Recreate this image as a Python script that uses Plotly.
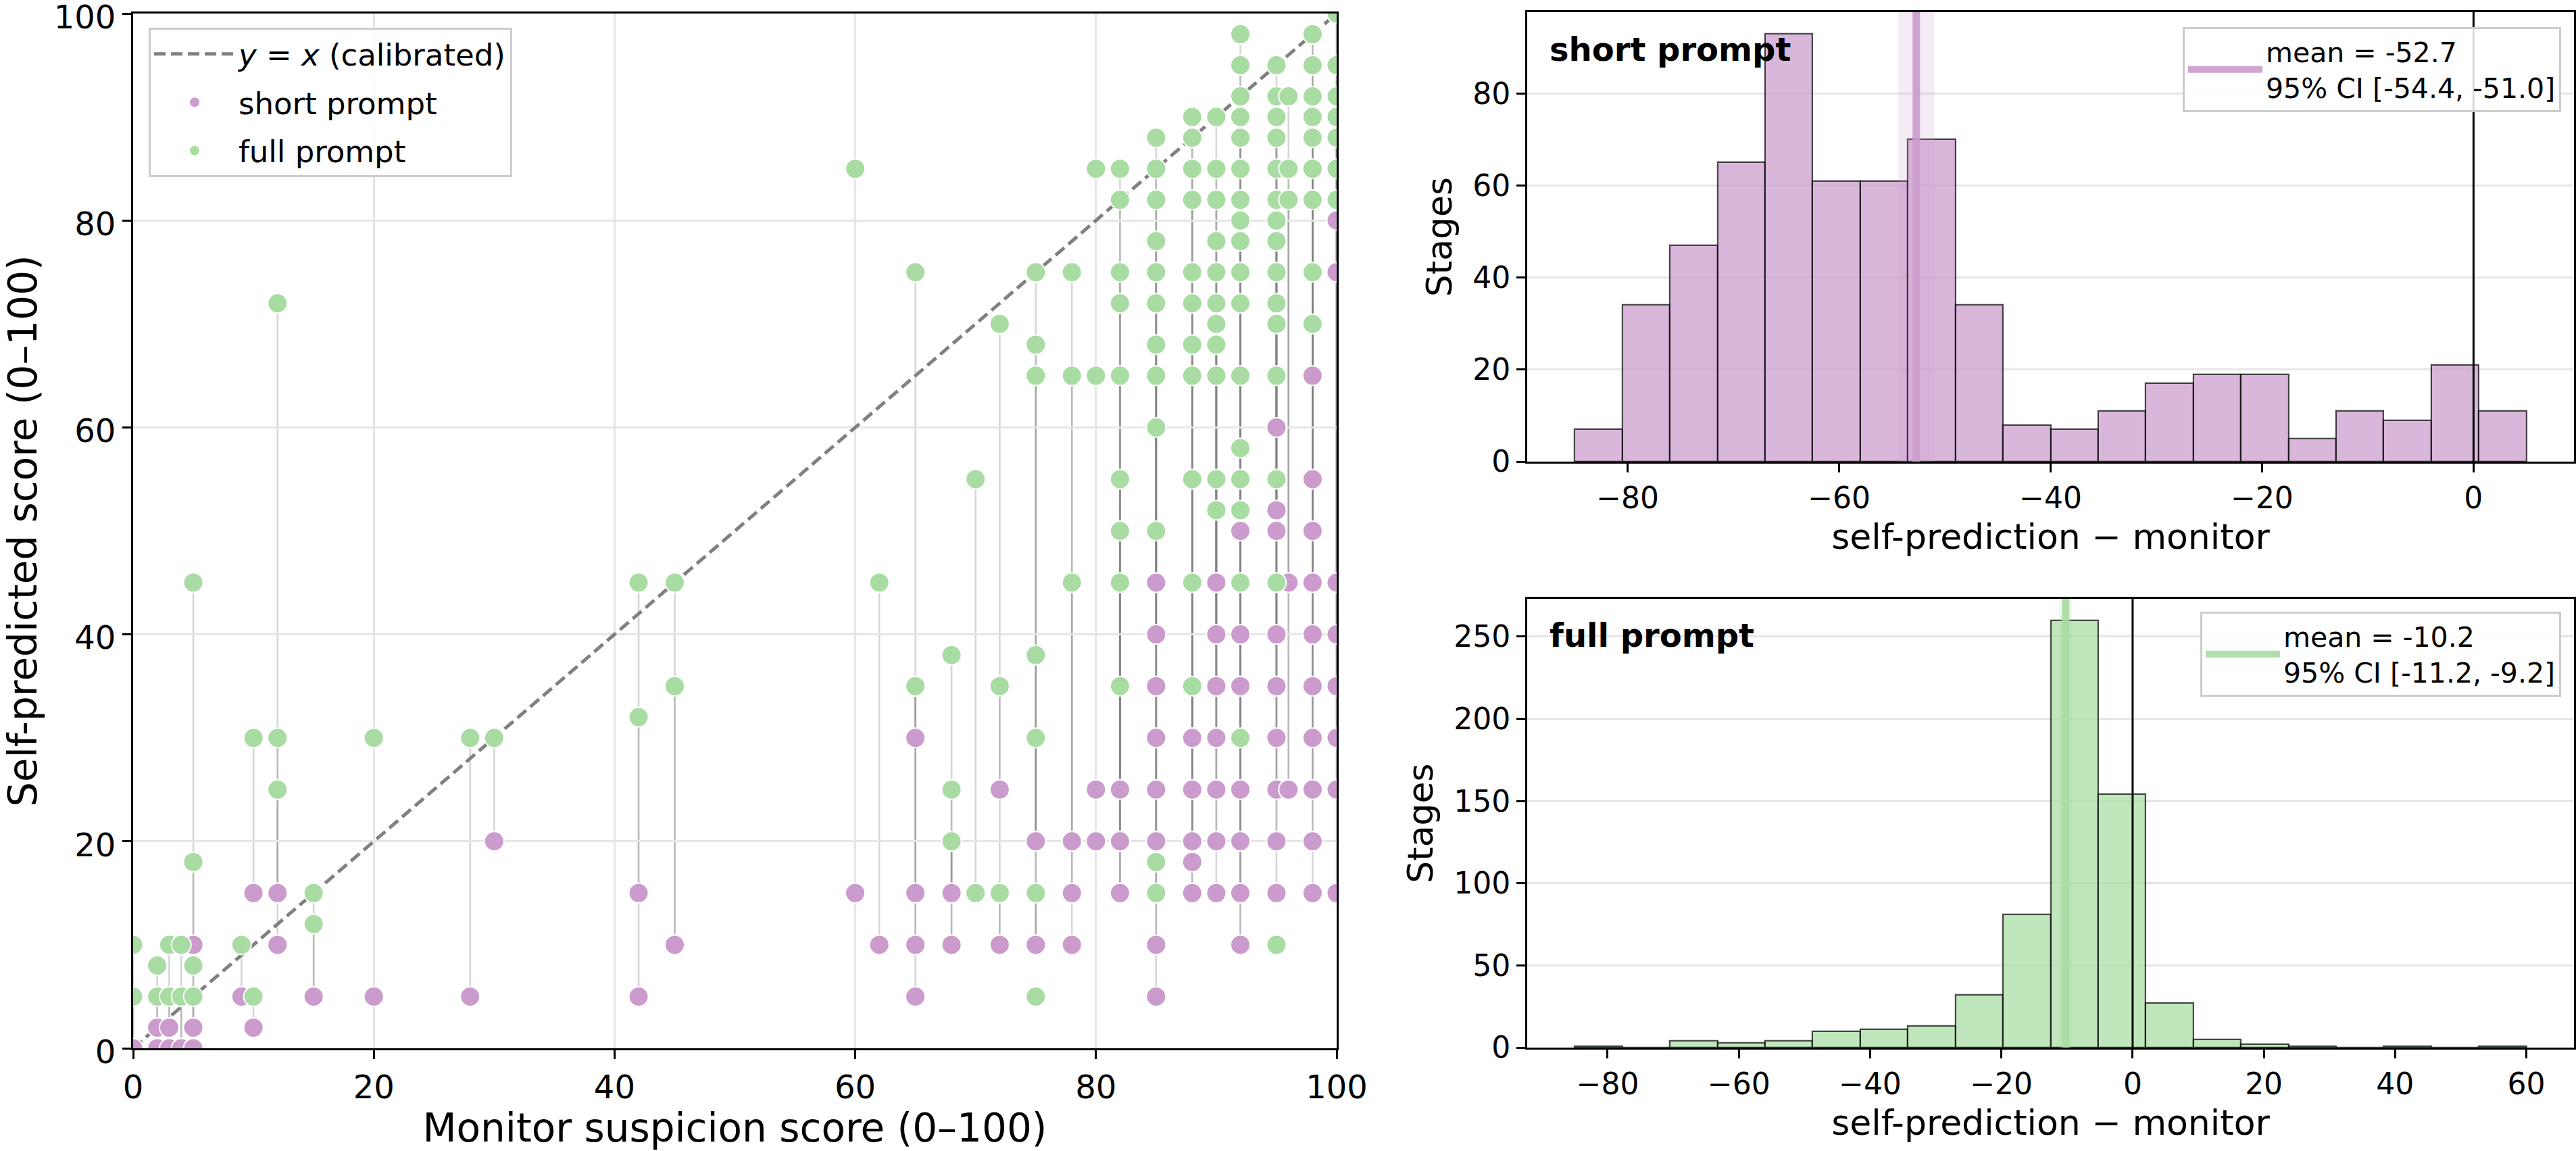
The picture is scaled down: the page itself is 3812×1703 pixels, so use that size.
import plotly.graph_objects as go

W, H = 3812, 1703

# ---------------- scatter data: one entry per stage pair ----------------
# monitor suspicion score (x), short-prompt self-prediction, full-prompt self-prediction
monitor_score = [
    0, 0,
    2, 2,
    3, 3,
    4, 4,
    5, 5, 5, 5,
    9,
    10, 10,
    12, 12, 12,
    15, 15,
    20, 28, 30,
    42, 42,
    45, 45,
    60, 62,
    65, 65, 65, 65,
    68, 68, 68, 68,
    70, 70,
    72, 72, 72,
    75, 75, 75, 75, 75, 75, 75,
    78, 78, 78,
    80, 80,
    82, 82, 82, 82, 82, 82, 82, 82, 82,
    85, 85, 85, 85, 85, 85, 85, 85, 85, 85, 85, 85,
    88, 88, 88, 88, 88, 88, 88, 88, 88, 88, 88,
    90, 90, 90, 90, 90, 90, 90, 90, 90, 90, 90,
    92, 92, 92, 92, 92, 92, 92, 92, 92, 92, 92, 92, 92, 92, 92, 92, 92,
    95, 95, 95, 95, 95, 95, 95, 95, 95, 95, 95, 95, 95, 95, 95,
    96, 96, 96,
    98, 98, 98, 98, 98, 98, 98, 98, 98, 98,
    100, 100, 100, 100, 100, 100, 100, 100,
]
short_pred = [
    0, 0,
    2, 0,
    2, 0,
    0, 0,
    10, 2, 0, 0,
    5,
    15, 2,
    15, 15, 10,
    5, 5,
    5, 5, 20,
    15, 5,
    10, 10,
    15, 10,
    15, 30, 10, 5,
    10, 15, 15, 10,
    15, 15,
    25, 10, 10,
    20, 20, 10, 20, 10, 10, 5,
    20, 15, 10,
    25, 20,
    25, 20, 15, 25, 20, 15, 25, 20, 15,
    45, 40, 35, 30, 25, 20, 10, 5, 45, 40, 35, 30,
    30, 25, 20, 18, 15, 30, 25, 20, 18, 15, 30,
    45, 40, 35, 30, 25, 20, 15, 45, 40, 35, 30,
    50, 40, 35, 25, 20, 15, 10, 50, 40, 35, 25, 20, 15, 10, 50, 40, 35,
    60, 52, 50, 40, 35, 30, 25, 20, 15, 60, 52, 50, 40, 35, 10,
    45, 25, 25,
    65, 55, 50, 45, 40, 35, 30, 25, 20, 15,
    80, 75, 45, 40, 35, 30, 25, 15,
]
full_pred = [
    10, 5,
    8, 5,
    10, 5,
    10, 5,
    45, 18, 8, 5,
    10,
    30, 5,
    72, 30, 25,
    15, 12,
    30, 30, 30,
    45, 32,
    45, 35,
    85, 45,
    75, 35, 35, 35,
    38, 25, 20, 20,
    55, 15,
    70, 35, 15,
    75, 68, 65, 38, 30, 15, 5,
    75, 65, 45,
    85, 65,
    85, 82, 75, 72, 65, 55, 50, 45, 35,
    88, 85, 82, 78, 75, 72, 68, 65, 60, 50, 18, 15,
    90, 88, 85, 82, 75, 72, 68, 65, 55, 45, 35,
    90, 85, 82, 78, 75, 72, 70, 68, 65, 55, 52,
    98, 95, 92, 90, 88, 85, 82, 80, 78, 75, 72, 65, 58, 55, 52, 45, 30,
    95, 92, 90, 88, 85, 82, 80, 78, 75, 72, 70, 65, 55, 45, 10,
    92, 85, 82,
    98, 95, 92, 90, 88, 85, 82, 75, 70, 98,
    100, 95, 92, 90, 88, 85, 82, 100,
]

# ---------------- histogram data (self-prediction - monitor) ----------------
short_bin_edges = [-85, -80.5, -76, -71.5, -67, -62.5, -58, -53.5, -49, -44.5, -40,
                   -35.5, -31, -26.5, -22, -17.5, -13, -8.5, -4, 0.5, 5]
short_counts = [7, 34, 47, 65, 93, 61, 61, 70, 34, 8, 7, 11, 17, 19, 19, 5, 11, 9, 21, 11]
short_mean = -52.7
short_ci = [-54.4, -51.0]

full_bin_edges = [-85, -77.75, -70.5, -63.25, -56, -48.75, -41.5, -34.25, -27, -19.75, -12.5,
                  -5.25, 2, 9.25, 16.5, 23.75, 31, 38.25, 45.5, 52.75, 60]
full_counts = [1, 0, 4, 3, 4, 10, 11, 13, 32, 81, 260, 154, 27, 5, 2, 1, 0, 1, 0, 1]
full_mean = -10.2
full_ci = [-11.2, -9.2]

# ---------------- styling ----------------
PURPLE = "rgb(203,155,205)"
GREEN = "rgb(168,220,162)"
PURPLE_BAR = "rgba(203,155,205,0.72)"
GREEN_BAR = "rgba(168,220,162,0.72)"
FONT = "DejaVu Sans"

def px_x(p):
    return p / W

def px_y(p):
    return 1 - p / H

fig = go.Figure()

# connector lines for each stage (drawn via data coordinates)
for m, s, f in zip(monitor_score, short_pred, full_pred):
    if s == f:
        continue
    fig.add_shape(type="line", xref="x", yref="y", x0=m, x1=m, y0=s, y1=f,
                  line=dict(color="rgba(128,128,128,0.32)", width=2.6), layer="below")

# y = x reference
fig.add_trace(go.Scatter(x=[0, 100], y=[0, 100], mode="lines", xaxis="x", yaxis="y",
                         line=dict(color="rgb(128,128,128)", width=5, dash="17px,8px"),
                         name="<i>y</i> = <i>x</i> (calibrated)", legend="legend",
                         legendgroup="a", hoverinfo="skip"))
fig.add_trace(go.Scatter(x=monitor_score, y=short_pred, mode="markers", xaxis="x", yaxis="y",
                         marker=dict(color=PURPLE, size=29, line=dict(color="white", width=2)),
                         name="short prompt", legend="legend", legendgroup="b"))
fig.add_trace(go.Scatter(x=monitor_score, y=full_pred, mode="markers", xaxis="x", yaxis="y",
                         marker=dict(color=GREEN, size=29, line=dict(color="white", width=2)),
                         name="full prompt", legend="legend", legendgroup="c"))

# histograms
def centers(edges):
    return [(a + b) / 2 for a, b in zip(edges[:-1], edges[1:])]

def widths(edges):
    return [b - a for a, b in zip(edges[:-1], edges[1:])]

fig.add_trace(go.Bar(x=centers(short_bin_edges), y=short_counts, width=widths(short_bin_edges),
                     xaxis="x2", yaxis="y2", showlegend=False,
                     marker=dict(color=PURPLE_BAR, line=dict(color="rgba(0,0,0,0.7)", width=2.2))))
fig.add_trace(go.Bar(x=centers(full_bin_edges), y=full_counts, width=widths(full_bin_edges),
                     xaxis="x3", yaxis="y3", showlegend=False,
                     marker=dict(color=GREEN_BAR, line=dict(color="rgba(0,0,0,0.7)", width=2.2))))

short_ymax = max(short_counts) * 1.05
full_ymax = max(full_counts) * 1.05

fig.add_trace(go.Scatter(x=[short_mean, short_mean], y=[0, short_ymax], mode="lines",
                         xaxis="x2", yaxis="y2", line=dict(color="rgba(203,155,205,0.9)", width=11),
                         name=f"mean = {short_mean:.1f}<br>95% CI [{short_ci[0]:.1f}, {short_ci[1]:.1f}]",
                         legend="legend2"))
fig.add_trace(go.Scatter(x=[full_mean, full_mean], y=[0, full_ymax], mode="lines",
                         xaxis="x3", yaxis="y3", line=dict(color="rgba(168,220,162,0.9)", width=11),
                         name=f"mean = {full_mean:.1f}<br>95% CI [{full_ci[0]:.1f}, {full_ci[1]:.1f}]",
                         legend="legend3"))

# CI bands and zero lines
fig.add_shape(type="rect", xref="x2", yref="y2 domain", x0=short_ci[0], x1=short_ci[1], y0=0, y1=1,
              fillcolor="rgba(203,155,205,0.2)", line=dict(width=0), layer="above")
fig.add_shape(type="rect", xref="x3", yref="y3 domain", x0=full_ci[0], x1=full_ci[1], y0=0, y1=1,
              fillcolor="rgba(168,220,162,0.2)", line=dict(width=0), layer="above")
for xr, yr in (("x2", "y2 domain"), ("x3", "y3 domain")):
    fig.add_shape(type="line", xref=xr, yref=yr, x0=0, x1=0, y0=0, y1=1,
                  line=dict(color="black", width=3), layer="above")

# panel labels
fig.add_annotation(xref="x2 domain", yref="y2 domain", x=0.02, y=0.917, text="<b>short prompt</b>",
                   showarrow=False, xanchor="left", yanchor="middle",
                   font=dict(family=FONT, size=48, color="black"))
fig.add_annotation(xref="x3 domain", yref="y3 domain", x=0.02, y=0.919, text="<b>full prompt</b>",
                   showarrow=False, xanchor="left", yanchor="middle",
                   font=dict(family=FONT, size=48, color="black"))

def axis(domain, rng, tickvals, title, tick_size, title_size, grid, anchor):
    return dict(domain=domain, range=rng, tickvals=tickvals, anchor=anchor,
                automargin=False, ticklabeloverflow="allow",
                showline=True, mirror=True, linecolor="black", linewidth=3,
                ticks="outside", ticklen=13, tickwidth=3, tickcolor="black",
                showgrid=grid, gridcolor="#e6e6e6", gridwidth=3, zeroline=False,
                tickfont=dict(family=FONT, size=tick_size, color="black"),
                title=dict(text=title, font=dict(family=FONT, size=title_size, color="black")))

minus = "\u2212"
sc_x = [px_x(197), px_x(1978)]
sc_y = [px_y(1551), px_y(20)]
h_x = [px_x(2260), px_x(3809)]
h1_y = [px_y(683), px_y(18)]
h2_y = [px_y(1550), px_y(886)]

sc_yaxis = axis(sc_y, [0, 100], [0, 20, 40, 60, 80, 100], "Self-predicted score (0\u2013100)", 48, 58, True, "x")
sc_yaxis["ticklabelshift"] = 5

fig.update_layout(
    width=W, height=H,
    margin=dict(l=0, r=0, t=0, b=0, autoexpand=False),
    paper_bgcolor="white", plot_bgcolor="white",
    font=dict(family=FONT, color="black"),
    bargap=0,
    xaxis=axis(sc_x, [0, 100], [0, 20, 40, 60, 80, 100], "Monitor suspicion score (0\u2013100)", 48, 58, True, "y"),
    yaxis=sc_yaxis,
    xaxis2=axis(h_x, [-89.5, 9.5], [-80, -60, -40, -20, 0], "self-prediction " + minus + " monitor", 44, 52, False, "y2"),
    yaxis2=axis(h1_y, [0, short_ymax], [0, 20, 40, 60, 80], "Stages", 44, 52, True, "x2"),
    xaxis3=axis(h_x, [-92.25, 67.25], [-80, -60, -40, -20, 0, 20, 40, 60], "self-prediction " + minus + " monitor", 44, 52, False, "y3"),
    yaxis3=axis(h2_y, [0, full_ymax], [0, 50, 100, 150, 200, 250], "Stages", 44, 52, True, "x3"),
    legend=dict(x=px_x(220), y=px_y(41), xanchor="left", yanchor="top",
                bgcolor="rgba(255,255,255,0.85)", bordercolor="#cccccc", borderwidth=3,
                font=dict(family=FONT, size=45, color="black"), tracegroupgap=10,
                itemsizing="trace", itemwidth=120),
    legend2=dict(x=px_x(3790), y=px_y(40), xanchor="right", yanchor="top",
                 bgcolor="rgba(255,255,255,0.85)", bordercolor="#cccccc", borderwidth=3,
                 font=dict(family=FONT, size=41, color="black"), itemwidth=110),
    legend3=dict(x=px_x(3790), y=px_y(905), xanchor="right", yanchor="top",
                 bgcolor="rgba(255,255,255,0.85)", bordercolor="#cccccc", borderwidth=3,
                 font=dict(family=FONT, size=41, color="black"), itemwidth=110),
)

# tick labels with proper minus sign
fig.update_layout(
    xaxis2_ticktext=[t.replace("-", minus) for t in ["-80", "-60", "-40", "-20", "0"]],
    xaxis3_ticktext=[t.replace("-", minus) for t in ["-80", "-60", "-40", "-20", "0", "20", "40", "60"]],
)

fig.write_html("out.html")
